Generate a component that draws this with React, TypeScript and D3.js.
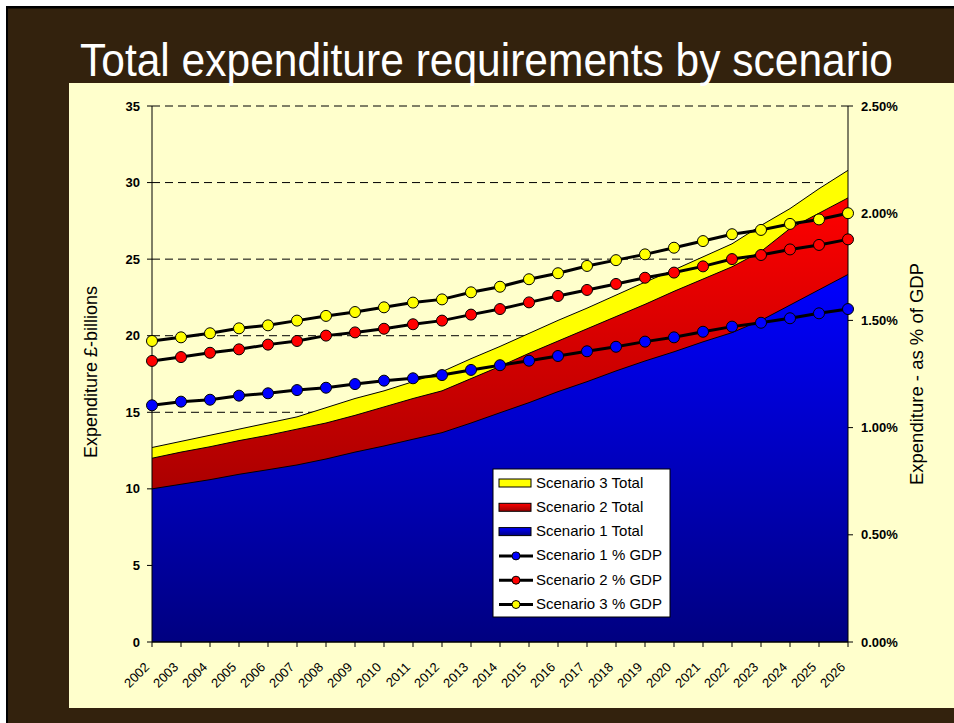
import React from "react";
import * as d3 from "d3";

const years = ["2002","2003","2004","2005","2006","2007","2008","2009","2010","2011","2012","2013","2014","2015","2016","2017","2018","2019","2020","2021","2022","2023","2024","2025","2026"];

// Expenditure £-billions (left axis)
const scenario1Total = [10.0,10.3,10.6,10.95,11.25,11.56,11.95,12.4,12.8,13.24,13.67,14.3,14.97,15.63,16.35,17.0,17.7,18.35,18.95,19.6,20.2,21.0,22.0,23.0,24.0];
const scenario2Total = [12.0,12.4,12.75,13.15,13.5,13.9,14.3,14.8,15.35,15.9,16.4,17.2,18.0,18.85,19.65,20.45,21.25,22.05,22.9,23.7,24.5,25.5,27.0,28.0,29.0];
const scenario3Total = [12.7,13.1,13.5,13.9,14.3,14.7,15.3,15.9,16.4,17.0,17.65,18.5,19.3,20.15,21.0,21.8,22.65,23.5,24.3,25.15,26.0,27.2,28.3,29.6,30.8];

// % of GDP (right axis)
const scenario1Gdp = [1.104,1.121,1.130,1.149,1.160,1.175,1.186,1.203,1.219,1.230,1.245,1.269,1.291,1.312,1.334,1.356,1.377,1.401,1.421,1.447,1.471,1.489,1.510,1.533,1.553];
const scenario2Gdp = [1.311,1.329,1.349,1.365,1.387,1.404,1.429,1.444,1.461,1.482,1.499,1.527,1.553,1.584,1.614,1.642,1.670,1.699,1.723,1.752,1.786,1.805,1.831,1.852,1.878];
const scenario3Gdp = [1.404,1.421,1.440,1.463,1.477,1.499,1.521,1.539,1.561,1.583,1.598,1.631,1.657,1.692,1.720,1.754,1.781,1.808,1.839,1.870,1.902,1.922,1.950,1.971,2.000];

const leftTicks = [0,5,10,15,20,25,30,35];
const rightTicks = [0,0.5,1.0,1.5,2.0,2.5];

const title = "Total expenditure requirements by scenario";
const leftTitle = "Expenditure £-billions";
const rightTitle = "Expenditure - as % of GDP";
const legendLabels = ["Scenario 3 Total","Scenario 2 Total","Scenario 1 Total","Scenario 1 % GDP","Scenario 2 % GDP","Scenario 3 % GDP"];

const FONT = "'Liberation Sans', Arial, Helvetica, sans-serif";

export default function App() {
  const W = 954, H = 723;
  const x = d3.scalePoint<string>().domain(years).range([152, 848]);
  const yL = d3.scaleLinear().domain([0, 35]).range([642, 106]);
  const yR = d3.scaleLinear().domain([0, 2.5]).range([642, 106]);

  const areaGen = d3.area<number>()
    .x((_, i) => x(years[i])!)
    .y0(yL(0))
    .y1((d) => yL(d));
  const topLine = d3.line<number>()
    .x((_, i) => x(years[i])!)
    .y((d) => yL(d));
  const gdpLine = d3.line<number>()
    .x((_, i) => x(years[i])!)
    .y((d) => yR(d));

  const areas = [
    { data: scenario3Total, fill: "#ffff00" },
    { data: scenario2Total, fill: "url(#gradRed)" },
    { data: scenario1Total, fill: "url(#gradBlue)" },
  ];
  const gdps = [
    { data: scenario1Gdp, color: "#0000ff" },
    { data: scenario2Gdp, color: "#ff0000" },
    { data: scenario3Gdp, color: "#ffff00" },
  ];

  const legendX = 493, legendY = 469, legendW = 177, legendH = 148;
  const rowBase = 487.5, rowStep = 24.3;
  const legendFills = ["#ffff00", "url(#gradRedL)", "url(#gradBlueL)"];
  const legendDots = ["#0000ff", "#ff0000", "#ffff00"];

  return (
    <svg width={W} height={H} style={{ position: "absolute", left: 0, top: 0, display: "block" }} fontFamily={FONT}>
      <defs>
        <linearGradient id="gradBlue" x1="0" y1="0" x2="0" y2="1">
          <stop offset="0" stopColor="#0000ff" />
          <stop offset="1" stopColor="#000080" />
        </linearGradient>
        <linearGradient id="gradRed" x1="0" y1="0" x2="0" y2="1">
          <stop offset="0" stopColor="#ff0000" />
          <stop offset="1" stopColor="#800000" />
        </linearGradient>
        <linearGradient id="gradBlueL" x1="0" y1="0" x2="0" y2="1">
          <stop offset="0" stopColor="#0000ff" />
          <stop offset="1" stopColor="#000080" />
        </linearGradient>
        <linearGradient id="gradRedL" x1="0" y1="0" x2="0" y2="1">
          <stop offset="0" stopColor="#ff0000" />
          <stop offset="1" stopColor="#990000" />
        </linearGradient>
      </defs>
      <rect x={0} y={0} width={W} height={H} fill="#ffffff" />
      <rect x={6} y={6} width={W - 6} height={H - 6} fill="#000000" />
      <rect x={8} y={8.5} width={W - 8} height={H - 8.5} fill="#33220d" />
      <rect x={69} y={83} width={W - 69} height={625} fill="#ffffcc" />

      <text x={80} y={76} fill="#ffffff" fontSize={46} textLength={813} lengthAdjust="spacingAndGlyphs">{title}</text>

      {/* gridlines */}
      {leftTicks.filter((t) => t > 0).map((t) => (
        <line key={"g" + t} x1={152} x2={848} y1={yL(t)} y2={yL(t)} stroke="#000" strokeWidth={1} strokeDasharray="8,5" />
      ))}

      {/* areas */}
      {areas.map((a, i) => (
        <g key={"a" + i}>
          <path d={areaGen(a.data)!} fill={a.fill} />
          <path d={topLine(a.data)!} fill="none" stroke="#000" strokeWidth={1} />
        </g>
      ))}

      {/* axes */}
      <line x1={152} x2={152} y1={106} y2={642} stroke="#000" strokeWidth={1} />
      <line x1={848} x2={848} y1={106} y2={642} stroke="#000" strokeWidth={1} />
      <line x1={152} x2={848} y1={642} y2={642} stroke="#000" strokeWidth={1.5} />
      {leftTicks.map((t) => (
        <g key={"l" + t}>
          <line x1={147} x2={152} y1={yL(t)} y2={yL(t)} stroke="#000" />
          <text x={140} y={yL(t)} dy="0.35em" textAnchor="end" fontSize={13} fontWeight="bold" fill="#000">{t}</text>
        </g>
      ))}
      {rightTicks.map((t) => (
        <g key={"r" + t}>
          <line x1={848} x2={853} y1={yR(t)} y2={yR(t)} stroke="#000" />
          <text x={861} y={yR(t)} dy="0.35em" textAnchor="start" fontSize={13} fontWeight="bold" fill="#000">{d3.format(".2f")(t) + "%"}</text>
        </g>
      ))}
      {years.map((yr) => (
        <g key={"x" + yr}>
          <line x1={x(yr)!} x2={x(yr)!} y1={642} y2={647} stroke="#000" />
          <text transform={`translate(${x(yr)! - 2},668) rotate(-45)`} textAnchor="end" fontSize={13} fill="#000">{yr}</text>
        </g>
      ))}

      <text transform="translate(97,372) rotate(-90)" textAnchor="middle" fontSize={18} fill="#000">{leftTitle}</text>
      <text transform="translate(923,374) rotate(-90)" textAnchor="middle" fontSize={18.5} fill="#000">{rightTitle}</text>

      {/* GDP lines */}
      {gdps.map((g, i) => (
        <g key={"p" + i}>
          <path d={gdpLine(g.data)!} fill="none" stroke="#000" strokeWidth={3} />
          {g.data.map((v, j) => (
            <circle key={j} cx={x(years[j])!} cy={yR(v)} r={5.5} fill={g.color} stroke="#000" strokeWidth={1} />
          ))}
        </g>
      ))}

      {/* legend */}
      <rect x={legendX} y={legendY} width={legendW} height={legendH} fill="#ffffff" stroke="#000" strokeWidth={1} />
      {legendLabels.map((lab, i) => {
        const by = rowBase + i * rowStep;
        const cy = by - 4.5;
        return (
          <g key={"lg" + i}>
            {i < 3 ? (
              <rect x={499} y={cy - 4} width={32} height={8} fill={legendFills[i]} stroke="#000" strokeWidth={1} />
            ) : (
              <g>
                <line x1={499} x2={533} y1={cy} y2={cy} stroke="#000" strokeWidth={3} />
                <circle cx={516} cy={cy} r={4} fill={legendDots[i - 3]} stroke="#000" strokeWidth={1} />
              </g>
            )}
            <text x={536} y={by} fontSize={15} fill="#000">{lab}</text>
          </g>
        );
      })}
    </svg>
  );
}
